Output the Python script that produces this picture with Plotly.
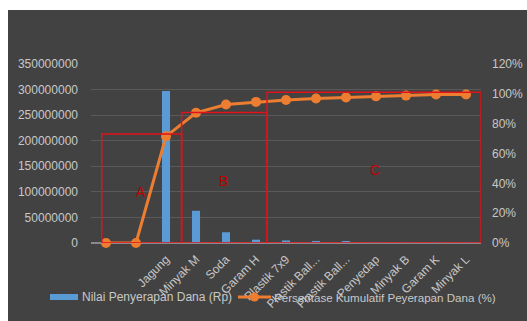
import plotly.graph_objects as go

categories = ["", "", "Jagung", "Minyak M", "Soda", "Garam H", "Plastik 7x9",
              "Plastik Ball...", "Plastik Ball...", "Penyedap", "Minyak B", "Garam K", "Minyak L"]
nilai = [0, 0, 297000000, 63000000, 21000000, 6500000, 5000000, 4000000, 3000000,
         1800000, 1500000, 600000, 300000]
kumulatif = [0, 0, 71.5, 87.3, 92.8, 94.6, 95.9, 96.9, 97.6, 98.3, 98.8, 99.5, 99.6]
bar_name = "Nilai Penyerapan Dana (Rp)"
line_name = "Persentase Kumulatif Peyerapan Dana (%)"

x = list(range(len(categories)))
grey = "#c8c8c8"
blue = "#5b9bd5"
orange = "#ed7d31"
font = "Liberation Sans"

L, R, T, B = 91, 46, 64, 78
W, H = 527, 321
pw, ph = W - L - R, H - T - B


def px(v):
    return (v - L) / pw


def py(v):
    return (H - B - v) / ph


fig = go.Figure()
fig.add_trace(go.Bar(x=x, y=nilai, name=bar_name, showlegend=False,
                     marker=dict(color=blue, line=dict(width=0)), width=0.27))
fig.add_trace(go.Scatter(x=x, y=kumulatif, yaxis="y2", mode="lines+markers",
                         name=line_name, showlegend=False, cliponaxis=False,
                         line=dict(color=orange, width=3),
                         marker=dict(color=orange, size=10)))

# background panel with white margin top/left
fig.add_shape(type="rect", xref="paper", yref="paper", x0=px(8), x1=px(540),
              y0=py(330), y1=py(10), fillcolor="#424242", line=dict(width=0), layer="below")

boxes = [(-0.14, 2.52, 73, "A", 1.17, 34.2), (2.52, 5.37, 87.5, "B", 3.93, 41.6),
         (5.37, 12.5, 101, "C", 8.97, 48.9)]
for x0, x1, top, lab, lx, ly in boxes:
    fig.add_shape(type="rect", xref="x", yref="y2", x0=x0, x1=x1, y0=0, y1=top,
                  line=dict(color="#e0121a", width=1.5), fillcolor="rgba(0,0,0,0)")
    fig.add_annotation(x=lx, y=ly, xref="x", yref="y2", text=lab, showarrow=False,
                       font=dict(color="#c00000", size=14, family=font))

# manual legend
ly_ = 297
fig.add_shape(type="rect", xref="paper", yref="paper", x0=px(50), x1=px(78),
              y0=py(ly_ + 3), y1=py(ly_ - 3), fillcolor=blue, line=dict(width=0))
fig.add_annotation(xref="paper", yref="paper", x=px(80), y=py(ly_), text=bar_name,
                   xanchor="left", yanchor="middle", showarrow=False,
                   font=dict(size=12, color=grey, family=font))
fig.add_shape(type="line", xref="paper", yref="paper", x0=px(238), x1=px(271),
              y0=py(ly_), y1=py(ly_), line=dict(color=orange, width=3))
fig.add_shape(type="circle", xref="paper", yref="paper", x0=px(250), x1=px(259),
              y0=py(ly_ + 4.5), y1=py(ly_ - 4.5), fillcolor=orange, line=dict(width=0))
fig.add_annotation(xref="paper", yref="paper", x=px(272), y=py(ly_), text=line_name,
                   xanchor="left", yanchor="middle", showarrow=False,
                   font=dict(size=11.6, color=grey, family=font))

fig.update_layout(
    width=W, height=H,
    margin=dict(l=L, r=R, t=T, b=B, autoexpand=False),
    paper_bgcolor="white", plot_bgcolor="rgba(0,0,0,0)",
    font=dict(family=font, color=grey, size=12),
    showlegend=False,
    xaxis=dict(range=[-0.5, 12.5], tickmode="array", tickvals=x, ticktext=categories,
               tickangle=-45, showgrid=False, zeroline=False, showline=False,
               ticks="", automargin=False, ticklabelstandoff=6,
               tickfont=dict(size=12, color=grey)),
    yaxis=dict(range=[0, 350000000], dtick=50000000, tickformat="d",
               gridcolor="#5a5a5a", gridwidth=1, zeroline=True, zerolinecolor="#8a8a8a",
               showline=False, ticks="", automargin=False, ticklabelstandoff=12,
               tickfont=dict(size=12, color=grey)),
    yaxis2=dict(range=[0, 120], dtick=20, ticksuffix="%", overlaying="y", side="right",
                showgrid=False, zeroline=False, showline=False, ticks="", automargin=False,
                ticklabelstandoff=10, tickfont=dict(size=12, color=grey)),
    bargap=0.7,
)

fig.write_html("out.html")
